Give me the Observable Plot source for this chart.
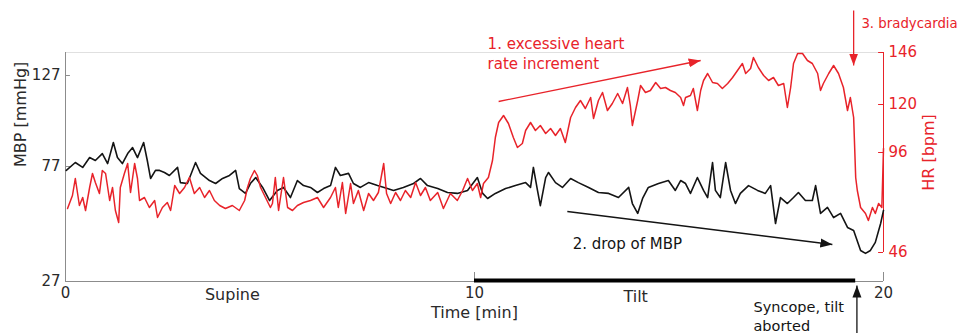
<!DOCTYPE html>
<html>
<head>
<meta charset="utf-8">
<script src="https://cdn.jsdelivr.net/npm/d3@7"></script>
<script src="https://cdn.jsdelivr.net/npm/@observablehq/plot@0.6"></script>
<style>
  html, body { margin: 0; padding: 0; background: #fff; overflow: hidden; }
  #chart svg { display: block; }
</style>
</head>
<body>
<div id="chart"></div>
<script>
// ---- Data (time in minutes) ----
const mbpTime = [0.02,0.24,0.42,0.59,0.73,0.90,1.03,1.17,1.27,1.39,1.52,1.64,1.76,1.91,2.00,2.08,2.20,2.30,2.42,2.54,2.74,2.81,2.98,3.18,3.30,3.52,3.67,3.84,4.01,4.16,4.25,4.40,4.52,4.65,4.82,4.99,5.18,5.33,5.50,5.67,5.82,5.99,6.16,6.31,6.48,6.60,6.72,6.92,7.04,7.21,7.41,7.63,7.87,8.02,8.26,8.51,8.68,8.85,9.10,9.34,9.58,9.83,10.07,10.20,10.32,10.51,10.76,11.00,11.25,11.37,11.44,11.54,11.61,11.74,11.81,11.98,12.15,12.35,12.54,12.79,13.03,13.28,13.52,13.77,13.86,13.99,14.11,14.25,14.50,14.74,14.91,15.04,15.16,15.28,15.45,15.60,15.70,15.82,15.89,16.01,16.14,16.26,16.38,16.50,16.70,16.92,17.11,17.24,17.36,17.48,17.65,17.80,17.92,18.09,18.26,18.34,18.46,18.63,18.78,18.95,19.12,19.27,19.44,19.56,19.68,19.80,19.93,20.00];
const mbpValue = [75.3,79.2,76.6,81.9,80.3,84.1,78.6,90.2,81.9,78.6,84.1,87.4,81.9,90.2,80.3,71.8,75.3,75.3,74.4,73.1,76.6,70.0,69.6,79.2,74.0,70.9,69.6,71.8,73.1,75.3,67.4,65.3,69.6,72.2,67.9,62.2,66.6,67.9,63.5,70.9,68.7,67.9,65.7,67.4,68.7,76.6,73.1,74.0,69.6,67.9,70.0,68.7,67.4,66.6,67.9,69.6,71.8,68.7,67.4,65.7,65.3,66.6,72.2,65.3,63.1,65.3,67.4,68.7,70.0,67.9,76.6,66.6,60.0,72.2,74.4,70.0,67.9,71.8,70.0,67.9,65.7,65.3,63.5,67.9,60.9,56.6,63.1,67.9,69.6,70.9,66.6,70.9,69.6,65.3,72.2,66.6,63.5,79.2,66.6,63.5,79.2,66.6,60.9,65.3,68.7,66.6,65.3,68.7,52.2,63.5,60.9,63.5,65.7,62.2,62.2,68.7,56.6,59.2,54.8,56.6,50.5,49.2,40.5,39.2,40.5,44.0,52.2,57.9];

const hrTime = [0.05,0.17,0.24,0.34,0.42,0.49,0.59,0.66,0.73,0.83,0.90,0.98,1.08,1.15,1.22,1.30,1.34,1.44,1.52,1.59,1.69,1.76,1.81,1.93,2.05,2.18,2.25,2.37,2.49,2.57,2.67,2.79,2.91,3.03,3.15,3.28,3.40,3.52,3.64,3.77,3.91,4.08,4.25,4.38,4.45,4.52,4.62,4.69,4.77,4.89,5.01,5.06,5.13,5.21,5.33,5.43,5.55,5.67,5.82,5.99,6.16,6.31,6.48,6.60,6.67,6.77,6.85,6.97,7.04,7.16,7.29,7.41,7.53,7.65,7.78,7.85,7.95,8.07,8.19,8.31,8.44,8.56,8.68,8.80,8.92,9.10,9.24,9.41,9.58,9.71,9.83,9.95,10.07,10.15,10.22,10.34,10.44,10.51,10.59,10.71,10.83,10.95,11.05,11.17,11.25,11.37,11.49,11.61,11.74,11.86,11.98,12.10,12.22,12.35,12.47,12.59,12.71,12.84,12.91,13.03,13.13,13.25,13.37,13.50,13.62,13.74,13.81,13.86,13.99,14.06,14.18,14.30,14.43,14.55,14.67,14.79,14.91,15.04,15.11,15.16,15.28,15.35,15.45,15.53,15.60,15.70,15.82,15.94,16.06,16.19,16.31,16.43,16.55,16.63,16.75,16.82,16.94,17.07,17.19,17.31,17.43,17.56,17.65,17.73,17.80,17.90,18.02,18.14,18.26,18.39,18.46,18.53,18.66,18.78,18.90,19.02,19.12,19.19,19.27,19.32,19.36,19.44,19.56,19.63,19.73,19.80,19.88,19.96,20.00];
const hrValue = [68,74.5,83,69.5,73.5,67,78.5,85.5,81,75.5,87,85.5,72,78.5,67,61,78.5,85.5,90.5,76,90.5,83,72,73.5,68.5,72,63.5,68.5,71,67,79.5,75.5,78.5,83.5,75.5,78.5,73.5,77,72,69.5,68,69.5,67,72,78.5,83,87,84.5,78.5,73.5,68.5,70.5,83.5,67,83.5,68.5,67,69.5,71,72,73.5,68.5,73.5,78.5,68.5,81,65.5,80.5,70.5,77,67,75.5,72,76,90.5,75.5,70.5,76,72,77,73.5,81,74.5,78.5,72,76,68,75.5,72,77,83,77,80.5,73.5,80.5,83.5,92,103.5,111,114.5,110.5,103.5,98.5,100.5,107,111,107,109.5,105.5,108,104.5,108,101,113.5,118.5,122,118,123.5,113,122,126,117,120.5,125.5,120.5,128.5,119.5,109.5,122,129.5,126,127,131,128,128.5,127,126,123.5,119.5,123.5,124.5,128,117,127,132,135.5,131,130.5,128,130.5,133.5,137,140.5,135.5,138,143.5,138.5,134.5,132,133.5,129.5,130.5,118.5,128.5,140.5,145.5,145.5,142,140.5,135.5,127,130.5,135.5,139.5,135.5,128.5,117,123.5,113.5,83.5,77,68.5,65.5,62,68.5,65.5,70.5,68.5,98];

// Tick labels
const timeTicks = [0, 10, 20];
const mbpTicks = [27, 77, 127];
const hrTicks = [46, 96, 120, 146];

// Phases
const tiltStart = 10, tiltEnd = 19.32;

// ---- Scales ----
// Left (MBP) axis values are placed onto the HR-unit y scale (piecewise, as in the figure)
const mbpToHr = d3.scaleLinear().domain([27, 77, 127]).range([31.5, 89, 134.5]);
const yDomain = [31.5, 146];

const mbp = mbpTime.map((t, i) => ({t, v: mbpToHr(mbpValue[i])}));
const hr = hrTime.map((t, i) => ({t, v: hrValue[i]}));

// Annotation anchors (time [min], HR-scale units)
const arrows = [
  {x1: 10.59, y1: 121.5, x2: 15.53, y2: 142, c: "red"},
  {x1: 19.27, y1: 167, x2: 19.27, y2: 139.5, c: "red"},
  {x1: 12.27, y1: 66.5, x2: 18.75, y2: 50, c: "black"},
  {x1: 19.35, y1: 5.5, x2: 19.35, y2: 29.5, c: "black"}
];
const notes = [
  {x: 10.32, y: 145.9, text: "1. excessive heart\nrate increment", c: "red", s: 15},
  {x: 19.46, y: 161, text: "3. bradycardia", c: "red", s: 13.3},
  {x: 12.40, y: 51, text: "2. drop of MBP", c: "black", s: 15},
  {x: 16.82, y: 14.65, text: "Syncope, tilt\naborted", c: "black", s: 14.5}
];
const phases = [
  {x: 4.08, y: 25, text: "Supine"},
  {x: 13.94, y: 24, text: "Tilt"}
];

const RED = "#e8232a";
const BLK = "#141414";
const GRAY = "#8c8c8c";
const TXT = "#2a2a2a";

function headMarker(color) {
  const ns = "http://www.w3.org/2000/svg";
  const m = document.createElementNS(ns, "marker");
  m.setAttribute("viewBox", "-12 -5 12 10");
  m.setAttribute("markerWidth", "12");
  m.setAttribute("markerHeight", "10");
  m.setAttribute("markerUnits", "userSpaceOnUse");
  m.setAttribute("orient", "auto");
  m.setAttribute("refX", "0");
  m.setAttribute("refY", "0");
  const p = document.createElementNS(ns, "path");
  p.setAttribute("d", "M-12,-4.5L0,0L-12,4.5Z");
  p.setAttribute("fill", color);
  m.appendChild(p);
  return m;
}
let head = headMarker;
try { Plot.link([0], {x1: 0, x2: 1, y1: 0, y2: 1, markerEnd: headMarker}); } catch (e) { head = "arrow"; }

const colorOf = (d) => d.c === "red" ? RED : BLK;

const plot = Plot.plot({
  width: 966,
  height: 333,
  marginLeft: 65,
  marginRight: 83,
  marginTop: 52,
  marginBottom: 52,
  x: {domain: [0, 20]},
  y: {domain: yDomain},
  style: {fontFamily: "'DejaVu Sans', sans-serif", fontSize: "15px", background: "#fff"},
  marks: [
    // frame pieces
    Plot.ruleY([yDomain[1]], {stroke: "#e0e0e0"}),
    Plot.ruleX([0], {stroke: GRAY}),
    Plot.ruleY([yDomain[0]], {stroke: GRAY}),
    Plot.ruleX([20], {y1: hrTicks[0], y2: hrTicks[hrTicks.length - 1], stroke: RED}),
    // inward ticks
    Plot.ruleY(mbpTicks.slice(1).map(mbpToHr), {x1: 0, x2: 0.12, stroke: GRAY}),
    Plot.ruleY(hrTicks, {x1: 19.88, x2: 20, stroke: RED}),
    Plot.ruleX(timeTicks.slice(1), {y1: yDomain[0], y2: yDomain[0] + 4.5, stroke: GRAY}),
    // tilt bar
    Plot.ruleY([yDomain[0]], {x1: tiltStart, x2: tiltEnd, stroke: "#000", strokeWidth: 4, dy: -1}),
    // series
    Plot.line(mbp, {x: "t", y: "v", stroke: BLK, strokeWidth: 1.6}),
    Plot.line(hr, {x: "t", y: "v", stroke: RED, strokeWidth: 1.5}),
    // axes
    Plot.axisY(mbpTicks.map(mbpToHr), {anchor: "left", tickSize: 0, tickPadding: 5, label: null, color: TXT,
      tickFormat: (d) => String(Math.round(mbpToHr.invert(d)))}),
    Plot.axisY(hrTicks, {anchor: "right", tickSize: 0, tickPadding: 5, label: null, color: RED}),
    Plot.axisX(timeTicks, {tickSize: 0, tickPadding: 6, label: null, color: TXT}),
    // axis titles
    Plot.text(["MBP [mmHg]"], {frameAnchor: "left", dx: -45, rotate: -90, fontSize: 16, fill: TXT}),
    Plot.text(["HR [bpm]"], {x: 20, y: 96, dx: 45, rotate: -90, fontSize: 16, fill: RED}),
    Plot.text(["Time [min]"], {x: 10, y: 16, fontSize: 16, fill: TXT}),
    Plot.text(phases, {x: "x", y: "y", text: "text", fontSize: 16, fill: TXT}),
    // annotations
    Plot.link(arrows, {x1: "x1", y1: "y1", x2: "x2", y2: "y2", stroke: colorOf, strokeWidth: 1.3, markerEnd: head}),
    Plot.text(notes, {x: "x", y: "y", text: "text", textAnchor: "start", fontSize: (d) => d.s, lineHeight: 1.33,
      fill: colorOf})
  ]
});

document.getElementById("chart").appendChild(plot);
</script>
</body>
</html>
